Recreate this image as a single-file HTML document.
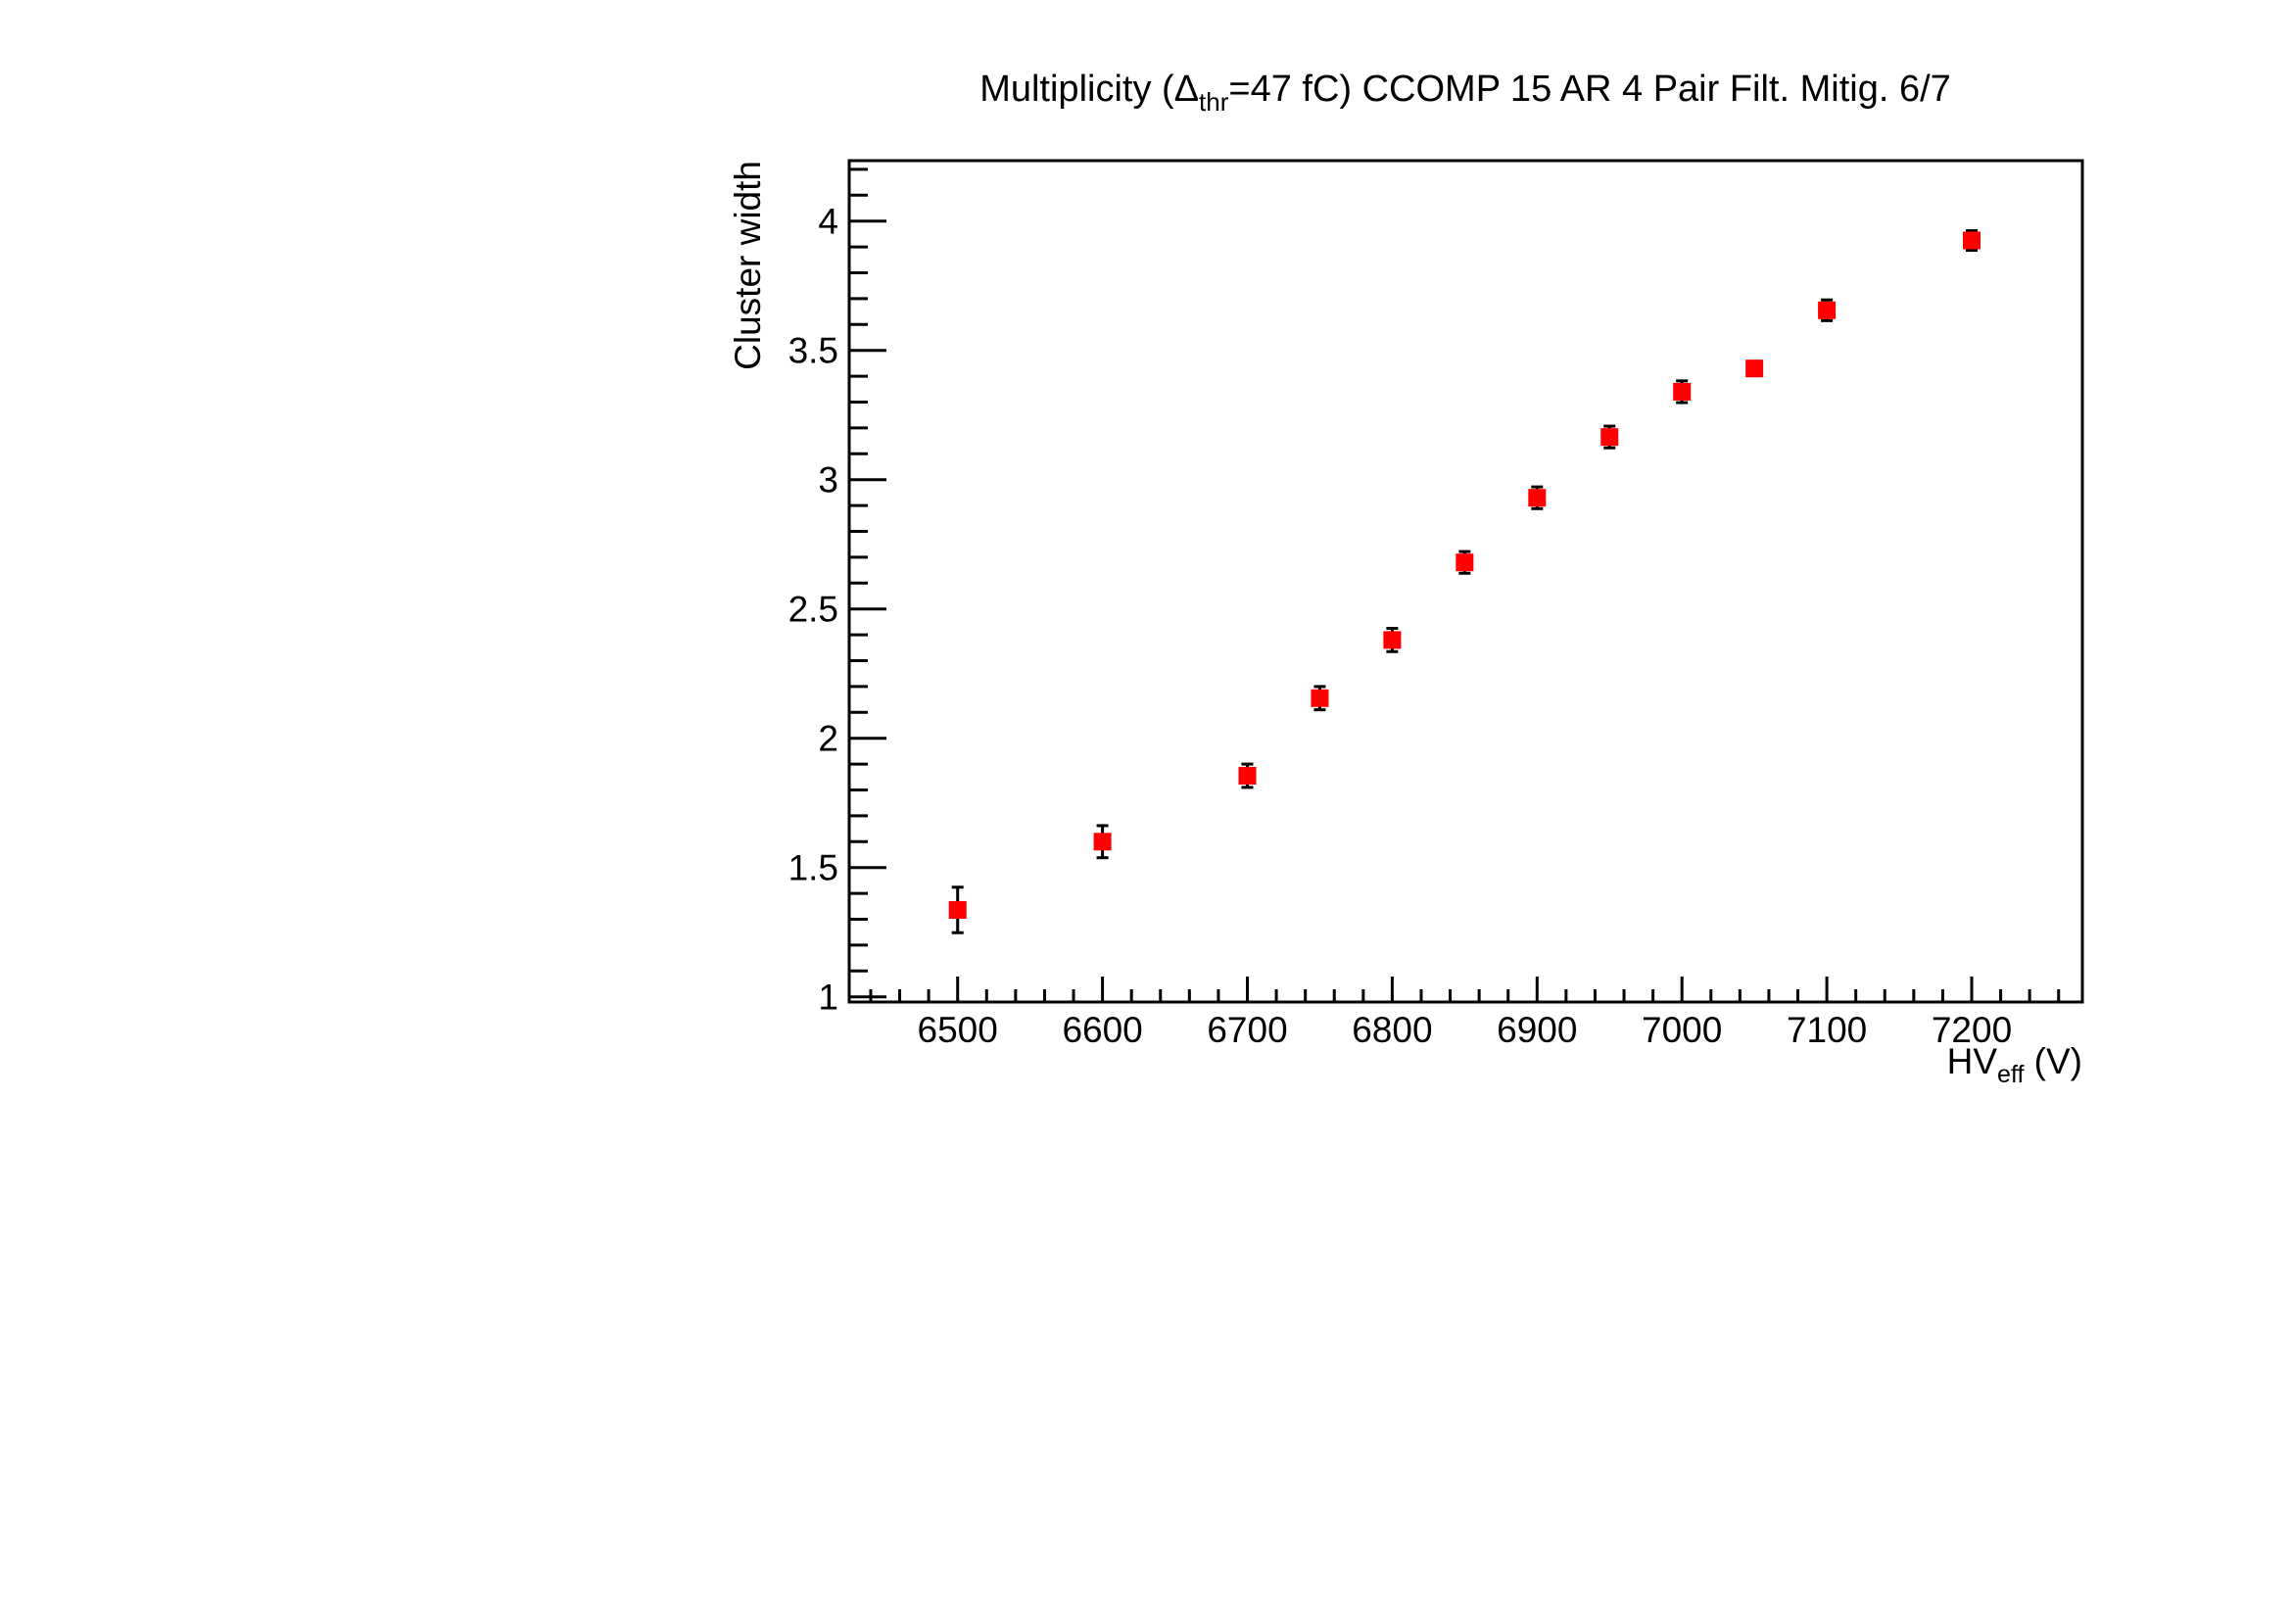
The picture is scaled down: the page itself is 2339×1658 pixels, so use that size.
<!DOCTYPE html>
<html><head><meta charset="utf-8"><style>html,body{margin:0;padding:0;background:#fff}</style></head>
<body>
<svg width="2339" height="1653" xmlns="http://www.w3.org/2000/svg" font-family="Liberation Sans, sans-serif">
<rect width="2339" height="1653" fill="#fff"/>
<text x="1496" y="103" font-size="38" text-anchor="middle">Multiplicity (Δ<tspan font-size="26" dy="10">thr</tspan><tspan dy="-10">=47 fC) CCOMP 15 AR 4 Pair Filt. Mitig. 6/7</tspan></text>
<rect x="867" y="164" width="1259" height="859" fill="none" stroke="#000" stroke-width="3"/>
<g stroke="#000" stroke-width="3" id="ticks"></g>
<g font-size="37" id="labels"></g>
<text transform="translate(776,164) rotate(-90)" font-size="37" text-anchor="end">Cluster width</text>
<text x="2126" y="1096" font-size="37" text-anchor="end">HV<tspan font-size="25" dy="9">eff</tspan><tspan dy="-9"> (V)</tspan></text>
<g id="pts"></g>
<script>
var ns="http://www.w3.org/2000/svg";
function el(p,t,a,txt){var e=document.createElementNS(ns,t);for(var k in a)e.setAttribute(k,a[k]);if(txt)e.textContent=txt;document.getElementById(p).appendChild(e);}
function Y(v){return 1017.7-(v-1)*264;}
function X(v){return 977.7+(v-6500)*1.479;}
for(var i=0;i<=33;i++){var val=Math.round((1+i*0.1)*10)/10;var y=Y(val);if(y<166)break;var maj=(Math.round(val*10)%5==0);
el("ticks","line",{x1:867,x2:867+(maj?38:19),y1:y,y2:y});
if(maj)el("labels","text",{x:856,y:y+13,"text-anchor":"end"},String(val));}
for(var v=6440;v<=7280;v+=20){var x=X(v);if(x>2124)break;var maj=(v%100==0);
el("ticks","line",{x1:x,x2:x,y1:1023,y2:1023-(maj?26:13)});
if(maj)el("labels","text",{x:x,y:1064,"text-anchor":"middle"},String(v));}
var d=[[6500,1.336,0.088],[6600,1.60,0.062],[6700,1.855,0.045],[6750,2.155,0.045],[6800,2.38,0.045],[6850,2.68,0.042],[6900,2.93,0.042],[6950,3.165,0.042],[7000,3.34,0.042],[7050,3.43,0.0],[7100,3.655,0.04],[7200,3.925,0.038]];
d.forEach(function(p){var x=X(p[0]),y=Y(p[1]);
if(p[2]>0){var t=Y(p[1]+p[2]),b=Y(p[1]-p[2]);
el("pts","line",{x1:x,x2:x,y1:t,y2:b,stroke:"#000","stroke-width":3});
el("pts","line",{x1:x-6,x2:x+6,y1:t,y2:t,stroke:"#000","stroke-width":3});
el("pts","line",{x1:x-6,x2:x+6,y1:b,y2:b,stroke:"#000","stroke-width":3});}
el("pts","rect",{x:x-9,y:y-9,width:18,height:18,fill:"#ff0000"});});
</script>
</svg>
</body></html>
